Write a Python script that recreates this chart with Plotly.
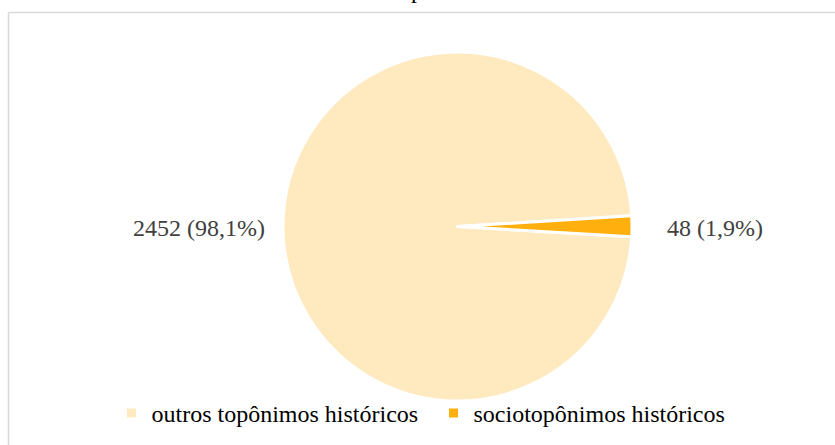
import plotly.graph_objects as go

# Data
categories = ["outros topônimos históricos", "sociotopônimos históricos"]
counts = [2452, 48]
colors = ["#FFEAC0", "#FFB00F"]

W, H = 835, 445
SERIF = "serif"

total = sum(counts)
slice_labels = [f"{v} ({100 * v / total:.1f}%)".replace(".", ",") for v in counts]

fig = go.Figure(
    go.Pie(
        labels=categories,
        values=counts,
        sort=False,
        direction="clockwise",
        rotation=93.4,
        marker=dict(colors=colors, line=dict(color="white", width=3)),
        textinfo="none",
        automargin=False,
        hoverinfo="label+value+percent",
        domain=dict(x=[283 / W, 632 / W], y=[1 - 401 / H, 1 - 52 / H]),
    )
)

# value labels beside each slice
label_anchor = [(267, "right"), (665, "left")]
annotations = []
for txt, (px, anchor) in zip(slice_labels, label_anchor):
    annotations.append(dict(
        text=txt, xref="paper", yref="paper", x=px / W, y=1 - 228 / H,
        xanchor=anchor, yanchor="middle", showarrow=False,
        font=dict(family=SERIF, size=24, color="#404040"),
    ))
# tail of the title line above the frame
annotations.append(dict(
    text="p", xref="paper", yref="paper", x=417 / W, y=1 - 5 / H,
    xanchor="center", yanchor="bottom", showarrow=False,
    font=dict(family=SERIF, size=24, color="#000000"),
))

fig.update_layout(
    width=W,
    height=H,
    margin=dict(l=0, r=0, t=0, b=0),
    paper_bgcolor="white",
    plot_bgcolor="white",
    font=dict(family=SERIF, size=24, color="#000000"),
    legend=dict(
        orientation="h",
        x=0.5 + 16 / W,
        xanchor="center",
        y=1 - 391 / H,
        yanchor="top",
        entrywidth=277,
        font=dict(family=SERIF, size=24, color="#000000"),
        bgcolor="rgba(0,0,0,0)",
    ),
    shapes=[
        # chart frame: top and left edges
        dict(type="line", xref="paper", yref="paper",
             x0=8.5 / W, x1=1.02, y0=1 - 12.5 / H, y1=1 - 12.5 / H,
             line=dict(color="#D9D9D9", width=1.5)),
        dict(type="line", xref="paper", yref="paper",
             x0=8.5 / W, x1=8.5 / W, y0=-0.05, y1=1 - 12.5 / H,
             line=dict(color="#D9D9D9", width=1.5)),
    ],
    annotations=annotations,
)

fig.write_html("out.html")
